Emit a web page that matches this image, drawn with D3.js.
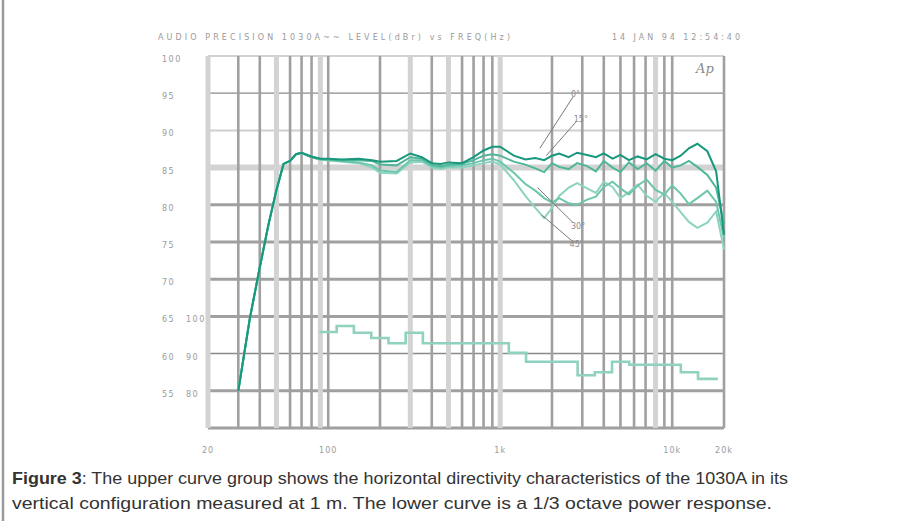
<!DOCTYPE html>
<meta charset="utf-8">
<style>
  body { margin: 0; background: #fff; }
  svg { display: block; }
</style>
<script src="https://d3js.org/d3.v7.min.js"></script>
<div id="chart"></div>
<script>

// frequency points (Hz) for the directivity curves
var freqs = [30,35,40,45,50,55,60,65,70,80,90,100,120,150,180,200,250,300,350,400,450,500,600,700,800,900,1000,
  1200,1400,1600,1800,2000,2200,2500,2800,3200,3600,4000,4500,5000,5600,6300,7100,8000,9000,10000,11200,12500,14000,16000,18000,20000];

// levels (dB) per angle
var lvl0 = [55.0,64.7,71.6,77.4,82.0,85.5,85.9,86.8,87.0,86.5,86.2,86.2,86.1,86.2,86.0,85.8,85.9,86.9,86.4,85.6,85.5,85.7,85.6,86.4,87.3,87.8,87.8,
  86.6,86.1,86.3,86.0,86.6,86.9,86.4,87.0,86.7,86.4,86.9,86.2,86.7,86.0,86.5,86.1,86.8,86.2,86.0,86.6,87.6,88.2,87.2,84.5,76.0];
var lvl15 = [55.0,64.7,71.6,77.4,82.0,85.5,85.9,86.8,87.0,86.4,86.2,86.1,86.0,86.0,85.9,85.4,85.3,86.4,86.2,85.4,85.2,85.4,85.5,86.0,86.6,86.8,86.6,
  85.8,85.4,84.9,84.4,85.6,85.1,84.8,85.6,85.2,84.5,85.9,85.0,84.4,85.7,84.8,85.6,84.6,85.9,85.0,85.3,85.9,85.1,84.0,82.3,77.5];
var lvl30 = [55.0,64.7,71.6,77.4,82.0,85.5,85.9,86.8,87.0,86.4,86.1,86.0,85.9,85.7,85.3,84.6,84.4,86.0,86.0,85.2,85.0,85.2,85.3,85.6,86.0,86.2,85.8,
  84.3,82.8,81.9,80.9,80.3,80.9,80.2,80.0,80.7,81.1,82.4,83.1,82.2,81.4,82.6,83.4,82.0,81.4,82.6,81.5,80.1,80.9,81.9,80.4,75.5];
var lvl45 = [55.0,64.7,71.6,77.4,82.0,85.5,85.9,86.8,87.0,86.4,86.1,86.0,85.8,85.6,85.0,84.3,84.2,85.7,85.8,85.0,84.8,85.0,85.0,85.3,85.6,85.8,85.4,
  83.3,81.2,79.6,78.2,79.6,81.2,82.3,82.9,82.2,81.6,83.1,82.4,80.9,81.7,82.7,81.2,80.4,81.6,80.4,79.0,77.7,76.9,77.6,79.1,74.0];

// 1/3 octave power response (band edges, level)
var powFreq = [89,112,141,178,224,282,355,1122,1413,2818,3548,4467,5623,11220,14125,18400];
var powLvl  = [62.9,63.7,62.8,62.1,61.4,62.8,61.4,60.1,58.9,57.1,57.5,58.9,58.5,57.5,56.6,56.6];

// axis labels
var yTicks = [100,95,90,85,80,75,70,65,60,55];
var powTickLvls = [65,60,55];
var powTickLabels = ["100","90","80"];
var xTickVals = [20,100,1000,10000,20000];
var xTickLabels = ["20","100","1k","10k","20k"];
var lightFreqs = [20,50,90,300,500,1000,8000];

// angle annotations: label point and curve point (freq, level)
var angleLabels = ["0°","15°","30°","45°"];
var labelAt = [[2650,94.5],[2750,91.1],[2650,77.6],[2600,75.2]];
var pointAt = [[1700,87.6],[1850,86.6],[1650,82.3],[1750,78.6]];

var W = 899, H = 521;
var svg = d3.select("#chart").append("svg").attr("width", W).attr("height", H);
svg.append("rect").attr("width", W).attr("height", H).attr("fill", "#fff");

var x = d3.scaleLog().domain([20, 20000]).range([208, 724]);
var y = d3.scaleLinear().domain([50, 100]).range([428, 56]);

// frame line on the far left
svg.append("line").attr("x1", 3).attr("x2", 3).attr("y1", 0).attr("y2", H)
  .attr("stroke", "#9a9a9a").attr("stroke-width", 2.5);

// header
svg.append("text").attr("x", 158).attr("y", 40).attr("textLength", 352)
  .attr("font-family", "DejaVu Sans").attr("font-size", 8).attr("fill", "#9a9a9a")
  .text("AUDIO PRECISION 1030A~~ LEVEL(dBr) vs FREQ(Hz)");
svg.append("text").attr("x", 612).attr("y", 40).attr("textLength", 128)
  .attr("font-family", "DejaVu Sans").attr("font-size", 8).attr("fill", "#9a9a9a")
  .text("14 JAN 94 12:54:40");

// horizontal grid
var hStyle = {100:["#d2d2d2",2],95:["#8a8a8a",1.2],90:["#cfcfcf",2],85:["#d3d3d3",6],80:["#a0a0a0",3],
  75:["#a0a0a0",3],70:["#a0a0a0",3],65:["#a0a0a0",3],60:["#8a8a8a",1.5],55:["#a0a0a0",3],50:["#a0a0a0",3]};
var hLines = yTicks.concat([50]);
svg.append("g").selectAll("line").data(hLines).enter().append("line")
  .attr("x1", x(20)).attr("x2", x(20000))
  .attr("y1", function(d) { return y(d); }).attr("y2", function(d) { return y(d); })
  .attr("stroke", function(d) { return hStyle[d][0]; })
  .attr("stroke-width", function(d) { return hStyle[d][1]; });

// vertical grid
var vLines = x.ticks();
svg.append("g").selectAll("line").data(vLines).enter().append("line")
  .attr("x1", function(d) { return x(d); }).attr("x2", function(d) { return x(d); })
  .attr("y1", y(100)).attr("y2", y(50))
  .attr("stroke", function(d) { return lightFreqs.indexOf(d) >= 0 ? "#d3d3d3" : "#a0a0a0"; })
  .attr("stroke-width", function(d) { return lightFreqs.indexOf(d) >= 0 ? 5 : 2.6; });

// y labels
svg.append("g").selectAll("text").data(yTicks).enter().append("text")
  .attr("x", 162).attr("y", function(d) { return y(d) + 6; })
  .attr("font-family", "DejaVu Sans").attr("font-size", 8).attr("letter-spacing", 1.5)
  .attr("fill", "#9a9a9a").text(function(d) { return d; });
svg.append("g").selectAll("text").data(powTickLvls).enter().append("text")
  .attr("x", 186).attr("y", function(d) { return y(d) + 6; })
  .attr("font-family", "DejaVu Sans").attr("font-size", 8).attr("letter-spacing", 1.5)
  .attr("fill", "#9a9a9a").text(function(d, i) { return powTickLabels[i]; });

// x labels
svg.append("g").selectAll("text").data(xTickVals).enter().append("text")
  .attr("x", function(d) { return x(d); }).attr("y", 453).attr("text-anchor", "middle")
  .attr("font-family", "DejaVu Sans").attr("font-size", 8).attr("letter-spacing", 1)
  .attr("fill", "#9a9a9a").text(function(d, i) { return xTickLabels[i]; });

// Ap logo
svg.append("text").attr("x", 696).attr("y", 73)
  .attr("font-family", "DejaVu Serif").attr("font-style", "italic").attr("font-size", 13)
  .attr("fill", "#8a8a8a").text("Ap");

// power response
var powLine = d3.line()
  .x(function(d, i) { return x(powFreq[i]); })
  .y(function(d) { return y(d); })
  .curve(d3.curveStepAfter);
svg.append("path").attr("d", powLine(powLvl))
  .attr("fill", "none").attr("stroke", "#8fd2bf").attr("stroke-width", 2.6);

// directivity curves
var curveLine = d3.line()
  .x(function(d, i) { return x(freqs[i]); })
  .y(function(d) { return y(d); });
var curves = [lvl45, lvl30, lvl15, lvl0];
var curveColors = ["#8ed3c0", "#6cc6ad", "#4fb699", "#17987c"];
svg.append("g").selectAll("path").data(curves).enter().append("path")
  .attr("d", function(d) { return curveLine(d); })
  .attr("fill", "none")
  .attr("stroke", function(d, i) { return curveColors[i]; })
  .attr("stroke-width", 2);

// angle annotations
var ann = svg.append("g");
angleLabels.forEach(function(lab, i) {
  ann.append("line")
    .attr("x1", x(pointAt[i][0])).attr("y1", y(pointAt[i][1]))
    .attr("x2", x(labelAt[i][0])).attr("y2", y(labelAt[i][1]))
    .attr("stroke", "#7a7a7a").attr("stroke-width", 1);
  ann.append("text")
    .attr("x", x(labelAt[i][0]) - 2).attr("y", y(labelAt[i][1]) + (i < 2 ? 0 : 6))
    .attr("font-family", "DejaVu Sans").attr("font-size", 8).attr("fill", "#8a8a8a")
    .text(lab);
});

// caption
var cap = svg.append("text").attr("x", 12).attr("y", 484).attr("textLength", 776)
  .attr("lengthAdjust", "spacingAndGlyphs")
  .attr("font-family", "Liberation Sans Narrow, Liberation Sans, sans-serif").attr("font-size", 17).attr("fill", "#333");
cap.append("tspan").attr("font-weight", "bold").text("Figure 3");
cap.append("tspan").text(": The upper curve group shows the horizontal directivity characteristics of the 1030A in its");
svg.append("text").attr("x", 12).attr("y", 509).attr("textLength", 760)
  .attr("lengthAdjust", "spacingAndGlyphs")
  .attr("font-family", "Liberation Sans Narrow, Liberation Sans, sans-serif").attr("font-size", 17).attr("fill", "#333")
  .text("vertical configuration measured at 1 m. The lower curve is a 1/3 octave power response.");

</script>
